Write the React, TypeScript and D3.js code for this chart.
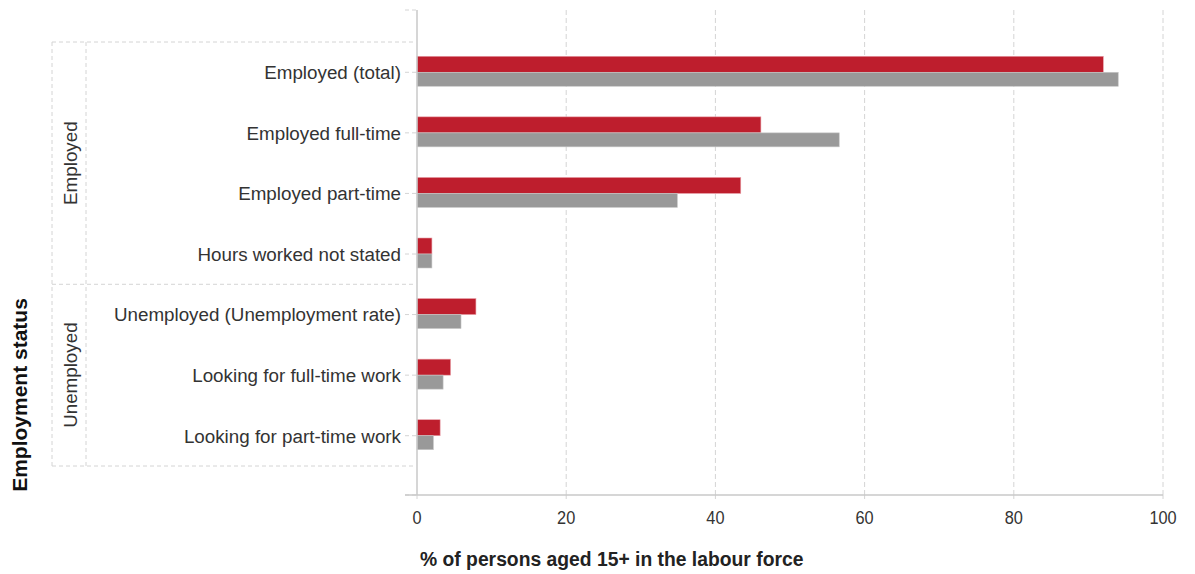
import React from "react";
import * as d3 from "d3";

const categories = [
  "Employed (total)",
  "Employed full-time",
  "Employed part-time",
  "Hours worked not stated",
  "Unemployed (Unemployment rate)",
  "Looking for full-time work",
  "Looking for part-time work",
];
const groups = [
  { name: "Employed", start: 0, end: 3 },
  { name: "Unemployed", start: 4, end: 6 },
];
const seriesRed = [92.0, 46.1, 43.4, 2.0, 7.9, 4.5, 3.1];
const seriesGray = [94.0, 56.6, 34.9, 2.0, 5.9, 3.5, 2.2];
const xTicks = [0, 20, 40, 60, 80, 100];

const W = 1195;
const H = 574;
const plotTop = 10;
const plotBottom = 495;
const bandTop = 42;
const bandBottom = 466;
const x0 = 417;
const x1 = 1163;

export default function App() {
  const x = d3.scaleLinear().domain([0, 100]).range([x0, x1]);
  const y = d3
    .scaleBand<string>()
    .domain(categories)
    .range([bandTop, bandBottom])
    .padding(0);
  const bw = y.bandwidth();
  const redH = 16;
  const grayH = 14;
  const grid = "#d4d4d4";
  const txt = "#333333";
  const font = "'Liberation Sans', Arial, sans-serif";
  const boxL = 52;
  const boxM = 86;
  const boxR = 416;

  return (
    <svg
      width={W}
      height={H}
      style={{ position: "absolute", left: 0, top: 0, background: "#fff" }}
    >
      {/* gridlines */}
      {xTicks.slice(1).map((t) => (
        <line
          key={"g" + t}
          x1={x(t)}
          x2={x(t)}
          y1={plotTop}
          y2={plotBottom}
          stroke={grid}
          strokeDasharray="5,3"
        />
      ))}
      {/* group boxes */}
      <g stroke={grid} strokeDasharray="4,3" fill="none">
        <line x1={boxL} x2={boxR} y1={bandTop} y2={bandTop} />
        {groups.map((g) => {
          const yb = (y(categories[g.end]) as number) + bw;
          return <line key={"hb" + g.name} x1={boxL} x2={boxR} y1={yb} y2={yb} />;
        })}
        <line x1={boxL} x2={boxL} y1={bandTop} y2={bandBottom} />
        <line x1={boxM} x2={boxM} y1={bandTop} y2={bandBottom} />
        <line x1={405} x2={x0} y1={plotTop} y2={plotTop} />
        <line x1={405} x2={x0} y1={plotBottom} y2={plotBottom} />
        {categories.map((c) => {
          const yc = (y(c) as number) + bw / 2;
          return <line key={"t" + c} x1={405} x2={x0} y1={yc} y2={yc} />;
        })}
        {xTicks.map((t) => (
          <line key={"xt" + t} x1={x(t)} x2={x(t)} y1={plotBottom} y2={plotBottom + 6} />
        ))}
      </g>
      {/* bars */}
      {categories.map((c, i) => {
        const yc = (y(c) as number) + bw / 2;
        return (
          <g key={"b" + c}>
            <rect
              x={x(0)}
              y={yc - redH}
              width={x(seriesRed[i]) - x(0)}
              height={redH}
              fill="#BE1E2D"
              stroke="#e8a0a8"
              strokeWidth={0.6}
            />
            <rect
              x={x(0)}
              y={yc}
              width={x(seriesGray[i]) - x(0)}
              height={grayH}
              fill="#999999"
              stroke="#c8c8c8"
              strokeWidth={0.6}
            />
          </g>
        );
      })}
      {/* axes lines */}
      <line x1={x0} x2={x0} y1={plotTop} y2={plotBottom} stroke="#c8c8c8" strokeWidth={1.5} />
      <line x1={405} x2={x1} y1={plotBottom} y2={plotBottom} stroke="#c8c8c8" strokeWidth={1.5} />
      {/* category labels */}
      {categories.map((c) => {
        const yc = (y(c) as number) + bw / 2;
        return (
          <text
            key={"l" + c}
            x={401}
            y={yc + 6.8}
            textAnchor="end"
            fontFamily={font}
            fontSize={18.8}
            fill={txt}
          >
            {c}
          </text>
        );
      })}
      {/* group labels */}
      {groups.map((g) => {
        const ya = y(categories[g.start]) as number;
        const yb = (y(categories[g.end]) as number) + bw;
        const yc = (ya + yb) / 2;
        return (
          <text
            key={"gl" + g.name}
            transform={`translate(76.5,${yc}) rotate(-90)`}
            textAnchor="middle"
            fontFamily={font}
            fontSize={18.8}
            fill={txt}
          >
            {g.name}
          </text>
        );
      })}
      {/* y title */}
      <text
        transform={`translate(27,395) rotate(-90)`}
        textAnchor="middle"
        fontFamily={font}
        fontSize={21}
        fontWeight="bold"
        fill="#111"
      >
        Employment status
      </text>
      {/* x tick labels */}
      {xTicks.map((t) => (
        <text
          key={"xl" + t}
          transform={`translate(${x(t)},524) scale(0.86,1)`}
          textAnchor="middle"
          fontFamily={font}
          fontSize={19}
          fill={txt}
        >
          {t}
        </text>
      ))}
      {/* x title */}
      <text
        transform={`translate(420,566) scale(0.92,1)`}
        fontFamily={font}
        fontSize={21}
        fontWeight="bold"
        fill="#222"
      >
        % of persons aged 15+ in the labour force
      </text>
    </svg>
  );
}
